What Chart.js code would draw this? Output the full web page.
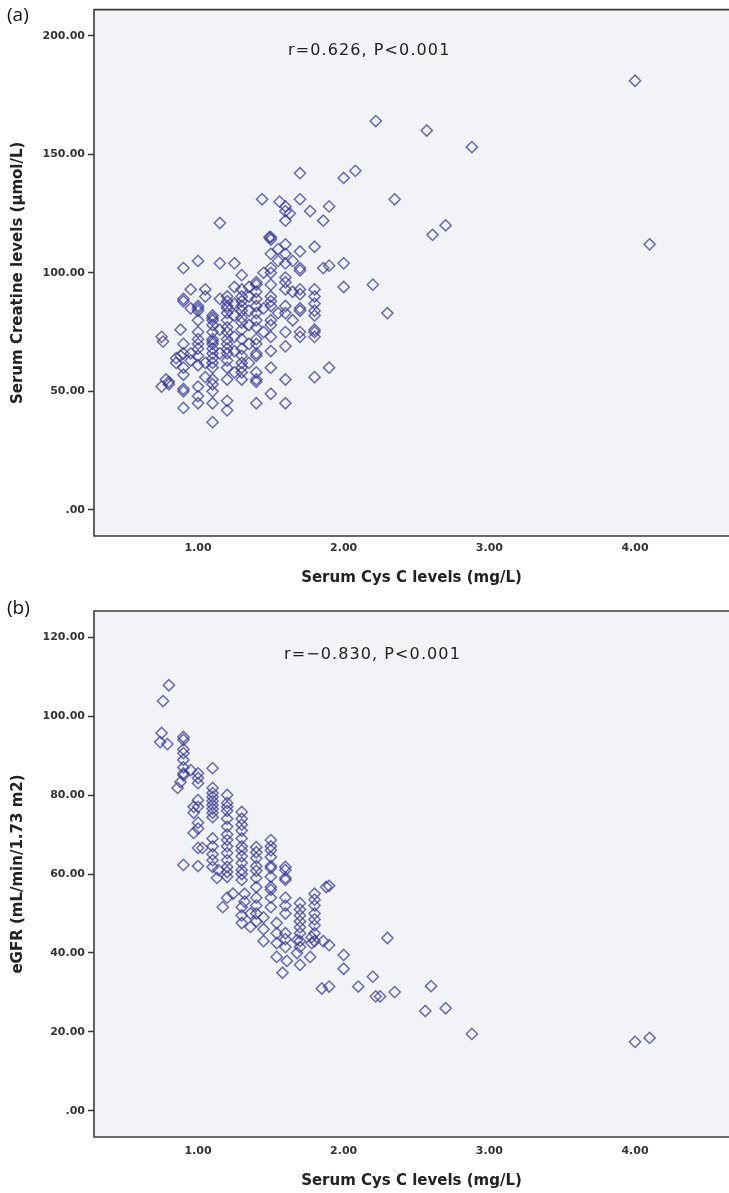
<!DOCTYPE html>
<html><head><meta charset="utf-8">
<script src="https://cdn.jsdelivr.net/npm/chart.js@4.4.1/dist/chart.umd.min.js"></script>
<style>
html,body{margin:0;padding:0;background:#fff;}
body{width:729px;height:1193px;position:relative;overflow:hidden;font-family:"DejaVu Sans",sans-serif;}
.panel{position:absolute;left:0;width:729px;}
canvas{display:block;}
.lab{position:absolute;font-family:"Open Sans",sans-serif;font-size:19px;color:#111;line-height:1;}
.ann{position:absolute;font-family:"DejaVu Sans",sans-serif;font-size:16px;letter-spacing:1.1px;color:#222;line-height:1;white-space:nowrap;}
</style></head>
<body>
<div class="panel" style="top:0;height:595px"><canvas id="ca" width="729" height="595"></canvas></div>
<div class="panel" style="top:595px;height:598px"><canvas id="cb" width="729" height="598"></canvas></div>
<div class="lab" style="left:7px;top:5px">(a)</div>
<div class="lab" style="left:7px;top:598px">(b)</div>
<div class="ann" style="left:288px;top:42px">r=0.626, P&lt;0.001</div>
<div class="ann" style="left:284px;top:646px">r=−0.830, P&lt;0.001</div>
<script>
// ---- data: panel (a) Serum Cys C (mg/L) vs Serum creatinine (µmol/L)
const cysA = [
 0.75,0.75,0.76,0.78,0.80,0.80,0.85,0.85,0.88,0.88,
 0.90,0.90,0.90,0.90,0.90,0.90,0.90,0.90,0.90,0.90,
 0.95,0.95,0.95,0.95,
 1.00,1.00,1.00,1.00,1.00,1.00,1.00,1.00,1.00,1.00,1.00,1.00,1.00,1.00,
 1.05,1.05,1.05,1.05,
 1.10,1.10,1.10,1.10,1.10,1.10,1.10,1.10,1.10,1.10,1.10,1.10,1.10,1.10,1.10,1.10,1.10,1.10,
 1.15,1.15,1.15,1.15,1.15,
 1.20,1.20,1.20,1.20,1.20,1.20,1.20,1.20,1.20,1.20,1.20,1.20,1.20,1.20,1.20,1.20,1.20,
 1.25,1.25,1.25,1.25,1.25,1.25,1.25,
 1.30,1.30,1.30,1.30,1.30,1.30,1.30,1.30,1.30,1.30,1.30,1.30,1.30,1.30,1.30,1.30,
 1.35,1.35,1.35,1.35,1.35,1.35,
 1.40,1.40,1.40,1.40,1.40,1.40,1.40,1.40,1.40,1.40,1.40,1.40,1.40,1.40,1.40,1.40,
 1.44,1.45,1.45,1.45,
 1.49,1.50,1.50,1.50,1.50,1.50,1.50,1.50,1.50,1.50,1.50,1.50,1.50,1.50,1.50,1.50,
 1.56,1.55,1.55,1.55,
 1.60,1.60,1.60,1.60,1.60,1.60,1.60,1.60,1.60,1.60,1.60,1.60,1.60,1.60,1.60,
 1.63,1.65,1.65,1.65,
 1.70,1.70,1.70,1.70,1.70,1.70,1.70,1.70,1.70,1.70,1.70,
 1.77,
 1.80,1.80,1.80,1.80,1.80,1.80,1.80,1.80,1.80,1.80,
 1.86,1.86,1.90,1.90,1.90,
 2.00,2.00,2.00,2.08,2.20,2.22,2.30,2.35,2.57,2.61,2.70,2.88,4.00,4.10
];
const creatA = [
 73,52,71,55,54,53,62,64,76,65,
 102,89,88,70,66,60,57,51,50,43,
 93,85,66,63,
 105,86,85,84,80,75,72,70,68,65,61,52,48,45,
 93,90,62,56,
 82,81,80,78,75,72,71,70,68,66,64,62,60,55,53,50,45,37,
 121,104,89,76,66,
 90,88,86,85,83,80,77,75,72,70,68,66,63,60,55,46,42,
 104,94,87,82,73,67,58,
 99,93,90,88,86,84,81,79,76,72,68,65,62,60,58,55,
 94,90,84,78,70,62,
 96,95,92,89,86,83,80,77,72,70,66,65,58,55,54,45,
 131,100,85,75,
 115,115,114,108,102,100,95,90,88,86,80,78,73,67,60,49,
 130,110,105,83,
 128,126,122,112,108,104,98,96,93,86,83,75,69,55,45,
 125,105,92,80,
 142,131,109,102,101,93,91,85,84,75,73,
 126,
 111,93,90,87,84,82,76,75,73,56,
 122,102,128,103,60,
 140,104,94,143,95,164,83,131,160,116,120,153,181,112
];

// ---- data: panel (b) Serum Cys C (mg/L) vs eGFR (mL/min/1.73 m2)
const cysB = [
 0.74,0.75,0.76,0.79,0.80,0.86,0.88,
 0.90,0.90,0.90,0.90,0.90,0.90,0.90,0.90,0.90,
 0.95,0.97,0.97,0.97,
 1.00,1.00,1.00,1.00,1.00,1.00,1.00,1.00,1.00,1.03,
 1.10,1.10,1.10,1.10,1.10,1.10,1.10,1.10,1.10,1.10,1.10,1.10,1.10,1.10,
 1.13,1.14,1.17,
 1.20,1.20,1.20,1.20,1.20,1.20,1.20,1.20,1.20,1.20,1.20,1.20,1.20,1.20,1.20,
 1.24,
 1.30,1.30,1.30,1.30,1.30,1.30,1.30,1.30,1.30,1.30,1.30,1.30,1.30,1.30,1.30,
 1.32,1.32,1.36,1.36,
 1.40,1.40,1.40,1.40,1.40,1.40,1.40,1.40,1.40,1.40,1.40,
 1.45,1.45,1.45,
 1.50,1.50,1.50,1.50,1.50,1.50,1.50,1.50,1.50,1.50,1.50,
 1.54,1.54,1.54,1.54,1.58,
 1.60,1.60,1.60,1.60,1.60,1.60,1.60,1.60,1.60,1.60,1.61,
 1.68,1.68,
 1.70,1.70,1.70,1.70,1.70,1.70,1.70,1.70,1.70,
 1.77,1.78,1.78,
 1.80,1.80,1.80,1.80,1.80,1.80,1.80,1.80,
 1.85,1.86,1.88,1.90,1.90,1.90,
 2.00,2.00,2.10,2.20,2.22,2.25,2.30,2.35,2.56,2.60,2.70,2.88,4.00,4.10
];
const egfrB = [
 93.4,95.7,103.8,92.9,107.8,81.8,83.3,
 94.7,94.0,91.6,90.6,88.9,87.0,85.5,85.0,62.3,
 86.3,77.0,75.5,70.4,
 85.5,84.3,83.0,78.7,77.0,73.0,71.5,66.6,62.0,66.6,
 86.8,81.8,80.5,79.5,78.5,77.5,76.5,75.5,74.4,69.0,67.0,65.0,63.5,61.8,
 59.0,61.0,51.6,
 80.0,78.0,77.0,76.0,74.0,72.0,70.0,68.6,67.0,65.3,63.5,61.8,60.5,59.3,54.0,
 55.0,
 75.7,74.0,72.5,71.0,69.0,67.0,66.0,64.5,62.8,61.0,60.0,58.5,51.6,49.5,47.6,
 55.0,53.0,50.0,46.6,
 66.8,65.5,64.0,62.0,60.8,59.0,56.7,54.0,52.0,50.0,48.0,
 49.0,46.0,43.0,
 68.6,67.0,66.0,64.3,62.0,61.5,59.3,56.7,56.0,54.0,51.6,
 47.6,45.0,42.5,39.0,35.0,
 61.8,61.0,59.0,58.5,54.0,52.0,50.0,45.0,43.5,41.5,38.0,
 43.3,40.0,
 52.6,51.0,49.5,48.0,46.5,45.0,43.0,41.5,37.0,
 39.0,44.0,42.5,
 55.0,53.5,52.0,50.0,48.5,47.0,45.0,43.0,
 31.0,43.0,56.7,57.0,42.0,31.5,
 39.5,36.0,31.5,34.0,29.0,29.0,43.8,30.1,25.3,31.6,26.0,19.5,17.5,18.5
];

// ---- axis ticks
const xTicks = [1, 2, 3, 4];
const yTicksA = [0, 50, 100, 150, 200];
const yTicksB = [0, 20, 40, 60, 80, 100, 120];
const xTitle = 'Serum Cys C levels (mg/L)';
const yTitleA = 'Serum Creatine levels (μmol/L)';
const yTitleB = 'eGFR (mL/min/1.73 m2)';

const fmt = v => (v === 0 ? '.00' : Number(v).toFixed(2));

const framePlugin = {
  id: 'frame',
  beforeDatasetsDraw(chart) {
    const { ctx, chartArea: a } = chart;
    ctx.save();
    ctx.fillStyle = '#F2F3F6';
    ctx.fillRect(a.left, a.top, a.right - a.left, a.bottom - a.top);
    ctx.strokeStyle = '#3c3c3c';
    ctx.lineWidth = 1.6;
    ctx.beginPath();
    ctx.moveTo(a.right + 2, a.top);
    ctx.lineTo(a.left, a.top);
    ctx.lineTo(a.left, a.bottom);
    ctx.lineTo(a.right + 2, a.bottom);
    ctx.stroke();
    ctx.restore();
  }
};

function makeChart(id, xs, ys, yMin, yMax, yTicks, yTitle, padTop, xAxisH, xTickPad, xTitlePadBottom) {
  const pts = xs.map((x, i) => ({ x: x, y: ys[i] }));
  return new Chart(document.getElementById(id), {
    type: 'scatter',
    data: { datasets: [{
      data: pts,
      pointStyle: 'rectRot',
      pointRadius: 5.6,
      pointHoverRadius: 5.6,
      borderWidth: 1.5,
      borderColor: 'rgba(52,52,150,0.72)',
      backgroundColor: 'rgba(0,0,0,0)'
    }]},
    options: {
      responsive: false,
      animation: false,
      events: [],
      layout: { autoPadding: false, padding: { top: padTop, right: 0, left: 0, bottom: 0 } },
      plugins: { legend: { display: false }, tooltip: { enabled: false } },
      scales: {
        x: {
          type: 'linear', min: 0.286, max: 4.645,
          afterBuildTicks: s => { s.ticks = xTicks.map(v => ({ value: v })); },
          afterFit: s => { s.height = xAxisH; },
          grid: { display: false, drawTicks: false, tickLength: 0 },
          border: { display: false },
          ticks: { callback: fmt, color: '#333', padding: xTickPad, maxRotation: 0,
                   font: { family: 'DejaVu Sans', size: 11, weight: 'bold' } },
          title: { display: true, text: xTitle, color: '#222',
                   padding: { top: 4, bottom: xTitlePadBottom },
                   font: { family: 'DejaVu Sans', size: 15, weight: 'bold' } }
        },
        y: {
          type: 'linear', min: yMin, max: yMax,
          afterBuildTicks: s => { s.ticks = yTicks.map(v => ({ value: v })); },
          afterFit: s => { s.width = 94; },
          grid: { drawOnChartArea: false, drawTicks: true, tickLength: 6, tickColor: '#333', tickWidth: 1.5 },
          border: { display: false },
          ticks: { callback: fmt, color: '#333', padding: 3,
                   font: { family: 'DejaVu Sans', size: 11, weight: 'bold' } },
          title: { display: true, text: yTitle, color: '#222',
                   padding: { top: 9, bottom: 4 },
                   font: { family: 'DejaVu Sans', size: 15, weight: 'bold' } }
        }
      }
    },
    plugins: [framePlugin]
  });
}

makeChart('ca', cysA, creatA, -11, 211, yTicksA, yTitleA, 9, 59, 6, 8);
makeChart('cb', cysB, egfrB, -6.6, 126.6, yTicksB, yTitleB, 16, 56, 8, 3);
</script>
</body></html>
